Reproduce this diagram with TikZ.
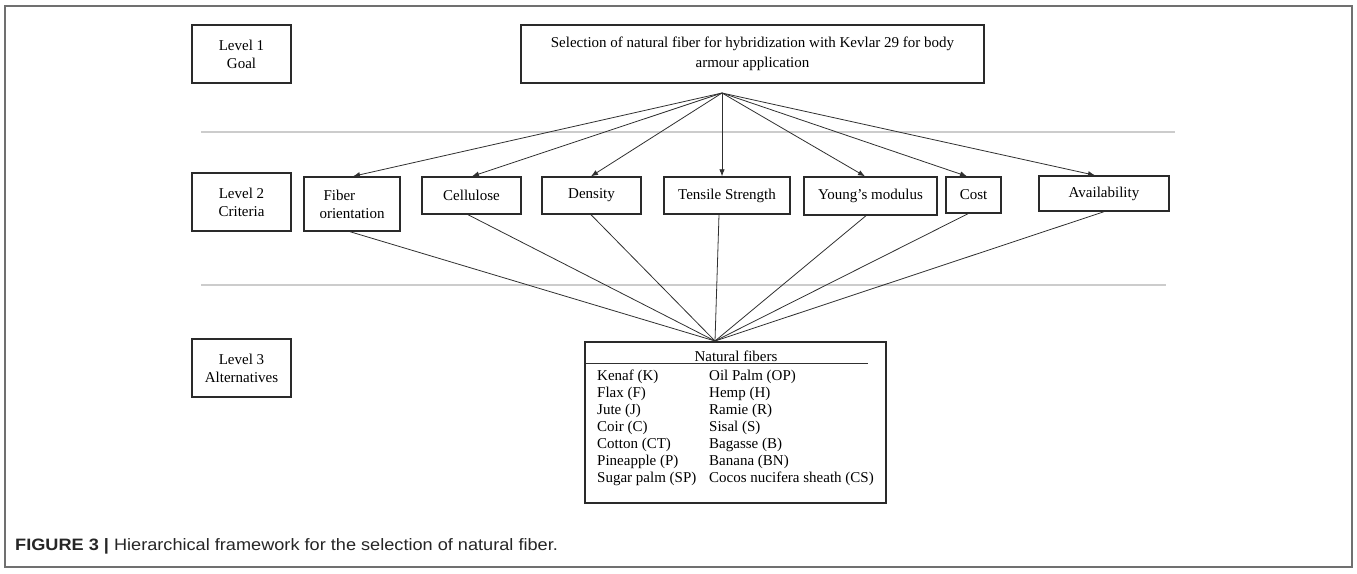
\documentclass[tikz,border=0pt]{standalone}
\usepackage{fontspec}
\usepackage{graphicx}
\setmainfont{Liberation Serif}
\newfontfamily\capfont{Liberation Sans}
\usetikzlibrary{arrows.meta}
\definecolor{boxcol}{HTML}{2A2A2A}
\definecolor{linecol}{HTML}{303030}
\definecolor{sepcol}{HTML}{CCCCCC}
\definecolor{framecol}{HTML}{707070}
\tikzset{
  cbox/.style={draw=boxcol, line width=1.4pt, inner sep=0pt, align=center,
    font=\fontsize{15}{18}\selectfont},
  goalbox/.style={cbox, font=\fontsize{15}{20}\selectfont},
  arr/.style={draw=linecol, line width=0.8pt, -{Latex[length=7pt,width=5.5pt]}},
  link/.style={draw=linecol, line width=0.8pt},
  sepline/.style={draw=sepcol, line width=1.2pt},
  listtxt/.style={anchor=base west, inner sep=0pt, font=\fontsize{15}{17}\selectfont}
}
\begin{document}
\begin{tikzpicture}[x=1pt,y=-1pt]
\useasboundingbox (0,0) rectangle (1357,573);
% outer frame
\draw[draw=framecol, line width=1.3pt] (5,6) rectangle (1352,567);

% level boxes
\node[cbox, minimum width=99pt, minimum height=58pt] (l1) at (241.5,54) {Level 1\\Goal};
\node[cbox, minimum width=99pt, minimum height=58pt] (l2) at (241.5,202) {Level 2\\Criteria};
\node[cbox, minimum width=99pt, minimum height=58pt] (l3) at (241.5,368) {Level 3\\Alternatives};

% goal
\node[goalbox, minimum width=463pt, minimum height=58pt] (goal) at (752.5,54)
  {Selection of natural fiber for hybridization with Kevlar 29 for body\\armour application};

% separator lines
\draw[sepline] (201,132) -- (1175,132);
\draw[sepline] (201,285) -- (1166,285);

% criteria
\node[cbox, align=left, minimum width=96pt, minimum height=54pt] (fib) at (352,204) {\hspace*{4pt}Fiber\\orientation};
\node[cbox, minimum width=99pt, minimum height=37pt] (cel) at (471.5,195.5) {Cellulose};
\node[cbox, minimum width=99pt, minimum height=37pt] (den) at (591.5,195.5) {Density};
\node[cbox, minimum width=126pt, minimum height=37pt] (ten) at (727,195.5) {Tensile Strength};
\node[cbox, minimum width=133pt, minimum height=38pt] (yng) at (870.5,196) {Young’s modulus};
\node[cbox, minimum width=55pt, minimum height=36pt] (cost) at (973.5,195) {Cost};
\node[cbox, minimum width=130pt, minimum height=35pt] (avl) at (1104,193.5) {Availability};

% alternatives box
\node[cbox, minimum width=301pt, minimum height=161pt] (nat) at (735.5,422.5) {};
\node[anchor=base, inner sep=0pt, font=\fontsize{15}{17}\selectfont] (nath) at (736,361) {Natural fibers};
\draw[link] (586,363) -- (868,363);
\foreach \t [count=\i] in {Kenaf (K), Flax (F), Jute (J), Coir (C), Cotton (CT), Pineapple (P), Sugar palm (SP)}
  \node[listtxt] (la\i) at (597,362.9+17.1*\i) {\t};
\foreach \t [count=\i] in {Oil Palm (OP), Hemp (H), Ramie (R), Sisal (S), Bagasse (B), Banana (BN), Cocos nucifera sheath (CS)}
  \node[listtxt] (lb\i) at (709,362.9+17.1*\i) {\t};

% apex points
\coordinate (top) at (722,93);
\coordinate (bot) at (715,341);

% arrows goal -> criteria
\draw[arr] (top) -- ([xshift=1pt]fib.north);
\draw[arr] (top) -- ([xshift=0.5pt]cel.north);
\draw[arr] (top) -- ([xshift=-0.5pt]den.north);
\draw[arr] (top) -- ([xshift=-5pt]ten.north);
\draw[arr] (top) -- ([xshift=-5.5pt]yng.north);
\draw[arr] (top) -- ([xshift=-6.5pt]cost.north);
\draw[arr] (top) -- ([xshift=-9pt]avl.north);

% criteria -> alternatives
\draw[link] ([xshift=-2pt]fib.south) -- (bot);
\draw[link] ([xshift=-3.5pt]cel.south) -- (bot);
\draw[link] ([xshift=-0.5pt]den.south) -- (bot);
\draw[link] ([xshift=-8pt]ten.south) -- (bot);
\draw[link] ([xshift=-4.5pt]yng.south) -- (bot);
\draw[link] ([xshift=-5.5pt]cost.south) -- (bot);
\draw[link] (avl.south) -- (bot);

% caption
\node[anchor=base west, inner sep=0pt, text=black!85, font=\capfont\fontsize{16.5}{18}\selectfont] (cap) at (15,550)
  {\scalebox{1.1}[1]{\textbf{FIGURE 3 |} Hierarchical framework for the selection of natural fiber.}};
\end{tikzpicture}
\end{document}
